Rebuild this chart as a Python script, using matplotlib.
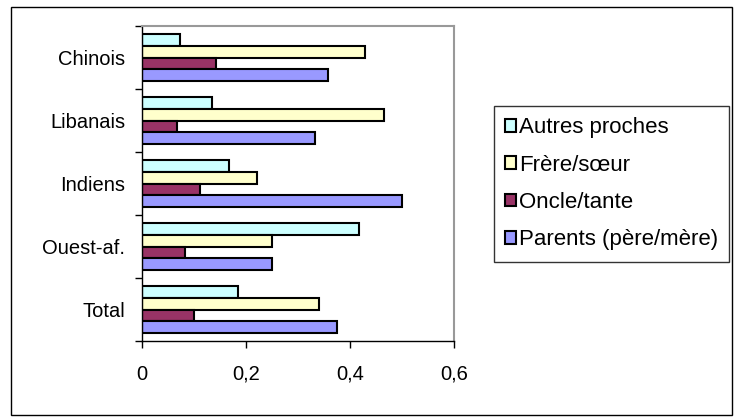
import numpy as np
import matplotlib.pyplot as plt
from matplotlib.patches import Rectangle

plt.rcParams['font.family'] = ['Liberation Sans', 'DejaVu Sans']

categories = ["Chinois", "Libanais", "Indiens", "Ouest-af.", "Total"]
series_names = ["Autres proches", "Frère/sœur", "Oncle/tante", "Parents (père/mère)"]
autres = [0.073, 0.135, 0.167, 0.417, 0.185]
frere = [0.428, 0.465, 0.222, 0.250, 0.340]
oncle = [0.143, 0.067, 0.111, 0.083, 0.100]
parents = [0.357, 0.333, 0.500, 0.250, 0.375]
colors = ["#CCFFFF", "#FFFFCC", "#993366", "#9999FF"]
xticks = [0, 0.2, 0.4, 0.6]
xtick_labels = ["0", "0,2", "0,4", "0,6"]

W, H = 741, 417
fig = plt.figure(figsize=(W / 100, H / 100), dpi=100)

# chart frame
fig.patches.append(Rectangle((11 / W, 1 - 415 / H), (732 - 11) / W, (415 - 7) / H,
                             transform=fig.transFigure, fill=False,
                             edgecolor="black", linewidth=1.0))

ax = fig.add_axes([142 / W, 1 - 341 / H, (454 - 142) / W, (341 - 26) / H])

n_cat = len(categories)
bar_h = 0.183
centers = np.arange(n_cat)[::-1] + 0.5  # first category on top
for i, (vals, name, col) in enumerate(zip([autres, frere, oncle, parents], series_names, colors)):
    offset = (1.5 - i) * bar_h
    ax.barh(centers + offset, vals, height=bar_h, color=col, edgecolor="black",
            linewidth=1.5, label=name)

ax.set_xlim(0, 0.6)
ax.set_ylim(0, n_cat)
ax.set_xticks(xticks)
ax.set_xticklabels(xtick_labels, fontsize=14.5)
ax.set_yticks(np.arange(n_cat + 1))
ax.set_yticklabels([])
ax.set_yticks(centers, minor=True)
ax.set_yticklabels(categories, minor=True, fontsize=14.5)
ax.tick_params(axis="y", which="minor", length=0, pad=12)
ax.tick_params(axis="y", which="major", direction="out", length=5, width=1)
ax.tick_params(axis="x", direction="out", length=5, width=1, pad=12)

for side in ("top", "right"):
    ax.spines[side].set_color("#999999")
    ax.spines[side].set_linewidth(1.5)
for side in ("left", "bottom"):
    ax.spines[side].set_color("black")
    ax.spines[side].set_linewidth(1.0)

leg = ax.legend(loc="upper left", bbox_to_anchor=(494 / W, 1 - 106 / H),
                bbox_transform=fig.transFigure, fontsize=16, frameon=True,
                fancybox=False, edgecolor="black", handlelength=0.5,
                handleheight=0.5, handletextpad=0.12, labelspacing=0.74,
                borderpad=0.5, borderaxespad=0)
leg.get_frame().set_linewidth(1.0)

fig.savefig("out.png", dpi=100)
